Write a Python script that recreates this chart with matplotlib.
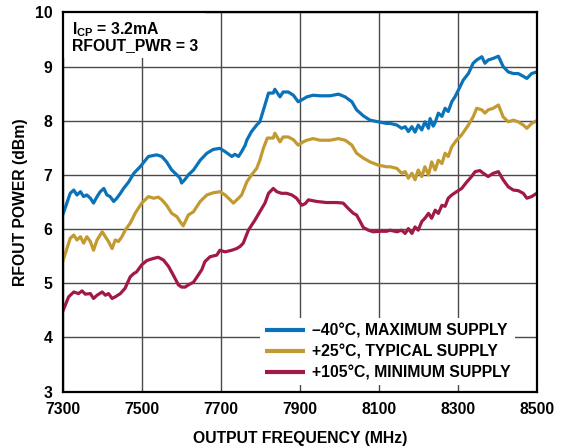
import matplotlib
matplotlib.use("Agg")
import matplotlib.pyplot as plt
from matplotlib.patches import Rectangle

plt.rcParams["font.family"] = ["Liberation Sans", "DejaVu Sans"]
plt.rcParams["font.weight"] = "bold"
plt.rcParams["mathtext.fontset"] = "custom"
plt.rcParams["mathtext.bf"] = "Liberation Sans:bold"
plt.rcParams["mathtext.rm"] = "Liberation Sans:bold"

# (frequency MHz, output power dBm) -- -40°C, maximum supply
cold = [(7300, 6.26), (7319, 6.66), (7328, 6.72), (7336, 6.63), (7345, 6.69), (7353, 6.60),
        (7361, 6.63), (7370, 6.57), (7378, 6.48), (7387, 6.60), (7395, 6.69), (7404, 6.75),
        (7412, 6.63), (7420, 6.60), (7429, 6.51), (7437, 6.57), (7446, 6.66), (7454, 6.75),
        (7467, 6.87), (7480, 7.03), (7496, 7.15), (7517, 7.34), (7538, 7.37), (7551, 7.34),
        (7563, 7.24), (7576, 7.09), (7589, 7.00), (7597, 6.94), (7601, 6.85), (7610, 6.92),
        (7618, 7.00), (7631, 7.09), (7648, 7.27), (7665, 7.40), (7681, 7.47), (7698, 7.49),
        (7711, 7.43), (7728, 7.34), (7736, 7.38), (7745, 7.34), (7753, 7.43), (7762, 7.55),
        (7766, 7.64), (7778, 7.80), (7791, 7.92), (7799, 7.98), (7812, 8.29), (7821, 8.51),
        (7833, 8.51), (7837, 8.58), (7850, 8.44), (7858, 8.53), (7871, 8.53), (7884, 8.47),
        (7896, 8.35), (7909, 8.40), (7918, 8.44), (7934, 8.47), (7951, 8.46), (7977, 8.46),
        (7998, 8.49), (8015, 8.44), (8032, 8.35), (8044, 8.20), (8061, 8.09), (8078, 8.01),
        (8099, 7.98), (8120, 7.95), (8129, 7.95), (8146, 7.92), (8158, 7.86), (8167, 7.89),
        (8175, 7.80), (8184, 7.89), (8192, 7.79), (8200, 7.92), (8209, 7.83), (8217, 7.98),
        (8226, 7.86), (8230, 8.04), (8238, 7.90), (8243, 7.97), (8251, 8.14), (8260, 8.08),
        (8268, 8.23), (8276, 8.17), (8285, 8.35), (8293, 8.44), (8302, 8.57), (8314, 8.75),
        (8327, 8.87), (8339, 9.06), (8348, 9.12), (8361, 9.18), (8369, 9.06), (8377, 9.12),
        (8390, 9.15), (8403, 9.19), (8415, 9.00), (8428, 8.90), (8441, 8.87), (8453, 8.87),
        (8466, 8.82), (8475, 8.78), (8487, 8.87), (8500, 8.90)]

# +25°C, typical supply
typical = [(7300, 5.40), (7319, 5.83), (7328, 5.89), (7336, 5.80), (7345, 5.86), (7353, 5.74),
           (7361, 5.86), (7370, 5.77), (7378, 5.61), (7387, 5.80), (7400, 5.95), (7408, 5.86),
           (7416, 5.77), (7425, 5.64), (7433, 5.80), (7441, 5.77), (7450, 5.86), (7458, 5.98),
           (7471, 6.11), (7484, 6.30), (7500, 6.48), (7517, 6.60), (7530, 6.57), (7542, 6.59),
           (7551, 6.54), (7563, 6.44), (7576, 6.29), (7589, 6.23), (7597, 6.14), (7605, 6.06),
           (7618, 6.26), (7631, 6.32), (7648, 6.51), (7665, 6.63), (7681, 6.67), (7698, 6.69),
           (7711, 6.63), (7724, 6.54), (7732, 6.48), (7745, 6.57), (7753, 6.63), (7766, 6.87),
           (7778, 7.00), (7791, 7.12), (7799, 7.27), (7808, 7.49), (7818, 7.68), (7833, 7.68),
           (7837, 7.77), (7850, 7.61), (7858, 7.70), (7871, 7.70), (7884, 7.65), (7896, 7.55),
           (7909, 7.61), (7918, 7.64), (7934, 7.67), (7951, 7.64), (7977, 7.64), (7998, 7.67),
           (8015, 7.64), (8032, 7.55), (8044, 7.40), (8061, 7.31), (8078, 7.24), (8099, 7.18),
           (8120, 7.15), (8129, 7.15), (8146, 7.12), (8158, 7.03), (8167, 7.06), (8175, 6.94),
           (8184, 7.03), (8192, 6.91), (8200, 7.09), (8209, 6.97), (8217, 7.15), (8226, 7.00),
           (8234, 7.24), (8243, 7.09), (8251, 7.27), (8260, 7.21), (8268, 7.40), (8276, 7.34),
           (8285, 7.52), (8297, 7.64), (8310, 7.74), (8327, 7.92), (8339, 8.07), (8348, 8.23),
           (8361, 8.20), (8369, 8.14), (8377, 8.20), (8390, 8.23), (8403, 8.29), (8415, 8.07),
           (8428, 7.98), (8441, 8.01), (8453, 7.98), (8466, 7.92), (8475, 7.86), (8487, 7.95),
           (8500, 8.00)]

# +105°C, minimum supply
hot = [(7300, 4.48), (7315, 4.75), (7328, 4.84), (7340, 4.81), (7349, 4.86), (7357, 4.80),
       (7370, 4.81), (7378, 4.72), (7387, 4.78), (7400, 4.84), (7408, 4.78), (7416, 4.81),
       (7425, 4.72), (7433, 4.75), (7446, 4.81), (7458, 4.91), (7471, 5.12), (7480, 5.18),
       (7487, 5.21), (7500, 5.34), (7513, 5.42), (7530, 5.46), (7542, 5.48), (7555, 5.43),
       (7568, 5.31), (7580, 5.15), (7593, 4.97), (7601, 4.93), (7610, 4.93), (7618, 4.97),
       (7631, 5.02), (7643, 5.15), (7652, 5.25), (7660, 5.40), (7673, 5.49), (7690, 5.52),
       (7698, 5.61), (7711, 5.58), (7728, 5.61), (7740, 5.64), (7749, 5.68), (7757, 5.74),
       (7770, 5.98), (7787, 6.17), (7799, 6.32), (7812, 6.48), (7821, 6.66), (7833, 6.75),
       (7842, 6.69), (7854, 6.66), (7867, 6.66), (7880, 6.63), (7892, 6.57), (7905, 6.44),
       (7914, 6.47), (7922, 6.54), (7943, 6.51), (7968, 6.49), (7994, 6.49), (8010, 6.48),
       (8023, 6.38), (8036, 6.29), (8044, 6.26), (8053, 6.14), (8061, 6.03), (8074, 5.98),
       (8086, 5.95), (8103, 5.96), (8120, 5.96), (8129, 5.98), (8146, 5.95), (8158, 5.98),
       (8167, 5.92), (8175, 6.01), (8184, 5.92), (8192, 6.04), (8200, 5.98), (8209, 6.14),
       (8217, 6.20), (8226, 6.29), (8234, 6.20), (8243, 6.35), (8251, 6.29), (8260, 6.44),
       (8268, 6.42), (8276, 6.57), (8285, 6.63), (8297, 6.69), (8310, 6.75), (8323, 6.87),
       (8335, 6.97), (8344, 7.06), (8356, 7.08), (8365, 7.03), (8377, 6.97), (8390, 7.03),
       (8403, 7.06), (8415, 6.91), (8428, 6.78), (8441, 6.72), (8453, 6.71), (8466, 6.66),
       (8475, 6.57), (8487, 6.60), (8500, 6.66)]

labels = ["\u201340°C, MAXIMUM SUPPLY", "+25°C, TYPICAL SUPPLY", "+105°C, MINIMUM SUPPLY"]
colors = ["#0A72B8", "#C39A32", "#A11A43"]
x_ticks = [7300, 7500, 7700, 7900, 8100, 8300, 8500]
y_ticks = [3, 4, 5, 6, 7, 8, 9, 10]

FS = 11.3

fig = plt.figure(figsize=(5.67, 4.48), dpi=100)
ax = fig.add_axes([0.1106, 0.1257, 0.836, 0.8468])
ax.set_axisbelow(True)

for data, lab, c in zip([cold, typical, hot], labels, colors):
    f, p = zip(*data)
    ax.plot(f, p, color=c, lw=2.3, label=lab, solid_joinstyle="round",
            solid_capstyle="butt", zorder=3)

ax.set_xlim(7300, 8500)
ax.set_ylim(3, 10)
ax.set_xticks(x_ticks)
ax.set_yticks(y_ticks)
ax.tick_params(length=0, labelsize=FS)
ax.tick_params(axis="x", pad=7.4)
ax.tick_params(axis="y", pad=7.6)
for lbl in ax.get_xticklabels() + ax.get_yticklabels():
    lbl.set_fontweight("bold")
ax.grid(True, color="#4a4a4a", lw=1.0)
for s in ax.spines.values():
    s.set_linewidth(1.6)
    s.set_color("black")
    s.set_zorder(5)

ax.set_xlabel("OUTPUT FREQUENCY (MHz)", fontsize=FS, fontweight="bold", labelpad=10)
ax.set_ylabel("RFOUT POWER (dBm)", fontsize=FS, fontweight="bold", labelpad=5)

# white panel behind the condition notes
ax.add_patch(Rectangle((0, 0.8795), 0.30, 0.1205, transform=ax.transAxes,
                       facecolor="white", edgecolor="none", zorder=2))
ax.text(0.019, 0.98, r"$\mathbf{I_{CP}}$ = 3.2mA", transform=ax.transAxes,
        fontsize=FS, fontweight="bold", va="top", ha="left", zorder=4)
ax.text(0.019, 0.9315, "RFOUT_PWR = 3", transform=ax.transAxes,
        fontsize=FS, fontweight="bold", va="top", ha="left", zorder=4)

leg = ax.legend(loc="lower right", bbox_to_anchor=(0.955, 0.018), borderaxespad=0,
                frameon=True, fancybox=False, framealpha=1, edgecolor="none",
                facecolor="white", fontsize=FS, handlelength=2.55,
                handletextpad=0.45, labelspacing=0.38, borderpad=0.3)
leg.set_zorder(6)
for t in leg.get_texts():
    t.set_fontweight("bold")
for h in leg.get_lines():
    h.set_linewidth(3)

fig.savefig("out.png", dpi=100)
